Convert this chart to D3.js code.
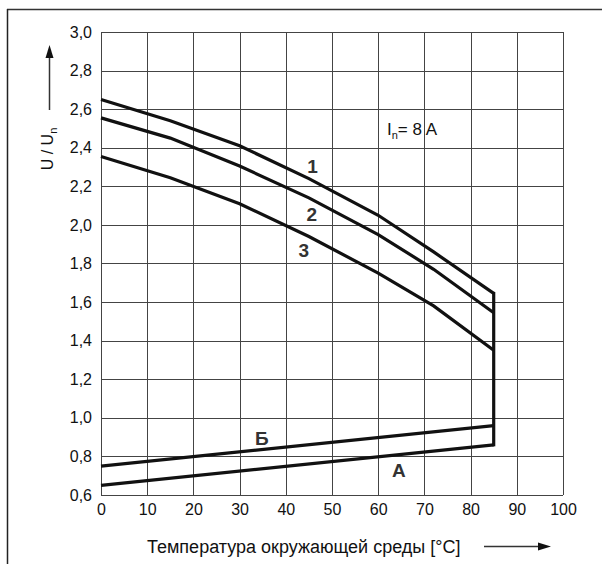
<!DOCTYPE html>
<html><head><meta charset="utf-8">
<script src="https://cdn.jsdelivr.net/npm/d3@7"></script>
<style>body{margin:0;background:#fff}svg{display:block}text{font-family:Arial,"Liberation Sans",sans-serif}</style>
</head><body>
<svg id="c" width="602" height="564"></svg>
<script>
const xTicks = [0,10,20,30,40,50,60,70,80,90,100];
const yTicks = [0.6,0.8,1.0,1.2,1.4,1.6,1.8,2.0,2.2,2.4,2.6,2.8,3.0];
const temps = [0,15,30,45,60,72,85];
const curve1 = [2.65,2.54,2.41,2.24,2.05,1.86,1.645];
const curve2 = [2.555,2.45,2.305,2.14,1.95,1.77,1.545];
const curve3 = [2.355,2.245,2.11,1.94,1.75,1.58,1.35];
const lineTemps = [0,85];
const lineA = [0.65,0.86];
const lineB = [0.75,0.96];
const labels = [
  {t:"1", x:45.8, y:2.269},
  {t:"2", x:45.6, y:2.02},
  {t:"3", x:43.9, y:1.834},
  {t:"Б", x:34.8, y:0.859},
  {t:"А", x:64.5, y:0.693}
];

const svg = d3.select("#c");
const x = d3.scaleLinear().domain([0,100]).range([101,563]);
const y = d3.scaleLinear().domain([0.6,3.0]).range([495,32]);
const gridColor = "#444";
const FONT = "Arial, 'Liberation Sans', sans-serif";

// frame (top and left)
svg.append("line").attr("x1",7).attr("x2",602).attr("y1",9.5).attr("y2",9.5).attr("stroke","#333").attr("stroke-width",1.5);
svg.append("line").attr("x1",7.5).attr("x2",7.5).attr("y1",9).attr("y2",564).attr("stroke","#222").attr("stroke-width",1.5);

// grid
svg.append("g").selectAll("line").data(xTicks).join("line")
  .attr("x1",d=>Math.round(x(d))+0.5).attr("x2",d=>Math.round(x(d))+0.5)
  .attr("y1",y(3.0)).attr("y2",y(0.6)).attr("stroke",gridColor).attr("stroke-width",1);
svg.append("g").selectAll("line").data(yTicks).join("line")
  .attr("y1",d=>Math.round(y(d))+0.5).attr("y2",d=>Math.round(y(d))+0.5)
  .attr("x1",x(0)).attr("x2",x(100)).attr("stroke",gridColor).attr("stroke-width",1);

// axes (tick labels only)
const xa = svg.append("g").attr("transform",`translate(0,${y(0.6)})`)
  .call(d3.axisBottom(x).tickValues(xTicks).tickSize(0).tickPadding(9).tickFormat(d3.format("d")));
xa.select(".domain").remove();
xa.selectAll("text").attr("font-size",16).attr("fill","#111").attr("font-family",FONT);
const ya = svg.append("g").attr("transform",`translate(${x(0)},0)`)
  .call(d3.axisLeft(y).tickValues(yTicks).tickSize(0).tickPadding(9).tickFormat(d=>d3.format(".1f")(d).replace(".",",")));
ya.select(".domain").remove();
ya.selectAll("text").attr("font-size",16).attr("fill","#111").attr("font-family",FONT);

// curves
const line = d3.line().x(d=>x(d[0])).y(d=>y(d[1]));
[curve1,curve2,curve3].forEach(c=>{
  svg.append("path").attr("d",line(temps.map((t,i)=>[t,c[i]])))
    .attr("fill","none").attr("stroke","#111").attr("stroke-width",3.2).attr("stroke-linejoin","miter");
});
[lineA,lineB].forEach(c=>{
  svg.append("path").attr("d",line(lineTemps.map((t,i)=>[t,c[i]])))
    .attr("fill","none").attr("stroke","#111").attr("stroke-width",3.2);
});
// vertical limit at 85
svg.append("line").attr("x1",x(85)).attr("x2",x(85)).attr("y1",y(curve1[curve1.length-1])-1.5).attr("y2",y(lineA[1])+1.5)
  .attr("stroke","#111").attr("stroke-width",3.2);

// curve labels
svg.append("g").selectAll("text").data(labels).join("text")
  .attr("x",d=>x(d.x)).attr("y",d=>y(d.y)).attr("text-anchor","middle")
  .attr("font-size",19).attr("font-weight","bold").attr("fill","#333").text(d=>d.t);

// In = 8 A
const t = svg.append("text").attr("x",387).attr("y",135).attr("font-size",17).attr("fill","#111");
t.append("tspan").text("I");
t.append("tspan").attr("font-size",11).attr("dy",4).text("n");
t.append("tspan").attr("dy",-4).text("= 8 A");

// y title
const yt = svg.append("text").attr("transform","translate(53,149) rotate(-90)").attr("text-anchor","middle")
  .attr("font-size",16).attr("fill","#111");
yt.append("tspan").text("U / U");
yt.append("tspan").attr("font-size",11).attr("dy",4).text("n");
// y arrow
svg.append("line").attr("x1",49.5).attr("x2",49.5).attr("y1",110).attr("y2",56).attr("stroke","#333").attr("stroke-width",1.5);
svg.append("path").attr("d","M49.5,45 L45.5,58 L53.5,58 Z").attr("fill","#111");

// x title
svg.append("text").attr("x",147).attr("y",553).attr("font-size",18).attr("fill","#111").text("Температура окружающей среды [°C]");
svg.append("line").attr("x1",484).attr("x2",540).attr("y1",546.5).attr("y2",546.5).attr("stroke","#333").attr("stroke-width",1.5);
svg.append("path").attr("d","M551,546.5 L538,542.5 L538,550.5 Z").attr("fill","#111");
</script>
</body></html>
